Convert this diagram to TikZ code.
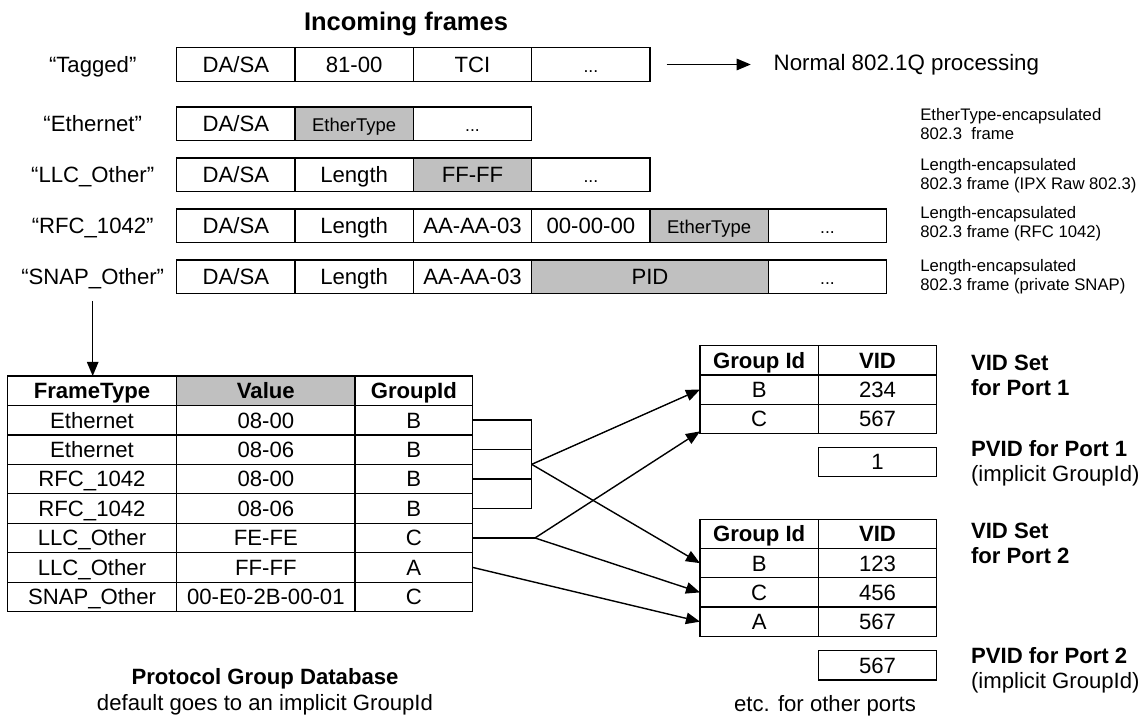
\documentclass[tikz,border=0pt]{standalone}
\usepackage{fontspec}
\setmainfont{Liberation Sans}
\usepackage{xcolor}
\usepackage{tikz}
\usetikzlibrary{arrows.meta, positioning, calc}
\definecolor{cellgray}{RGB}{192, 192, 192}
\newcommand{\bodyfont}{\fontsize{12.6}{14.3}\selectfont}
\newcommand{\notefont}{\fontsize{9.5}{10.8}\selectfont}
\tikzstyle{cell} = [rectangle, draw, line width=0.8pt, minimum width=2.366cm, minimum height=0.67cm, inner sep=0pt, outer sep=0pt, text height=9pt, text depth=0pt, font=\bodyfont]
\tikzstyle{shaded} = [cell, fill=cellgray]
\tikzstyle{restcell} = [cell, font=\fontsize{10}{12}\selectfont]
\tikzstyle{rowlabel} = [text height=9pt, text depth=0pt, font=\bodyfont]
\tikzstyle{tcell} = [rectangle, draw, line width=0.7pt, minimum height=0.589cm, inner sep=0pt, outer sep=0pt, text height=9pt, text depth=0pt, font=\bodyfont]
\tikzstyle{ftcell} = [tcell, minimum width=3.388cm]
\tikzstyle{valcell} = [tcell, minimum width=3.566cm]
\tikzstyle{gidcell} = [tcell, minimum width=2.354cm]
\tikzstyle{pcell} = [tcell, minimum width=2.366cm, minimum height=0.585cm]
\tikzstyle{arrow} = [line width=0.8pt, -{Triangle[length=8pt, width=6.5pt]}]
\tikzstyle{conn} = [line width=0.8pt]
\tikzstyle{note} = [anchor=west, align=left, inner sep=0pt, font=\notefont]
\tikzstyle{sidelabel} = [anchor=west, align=left, inner sep=0pt, font=\bodyfont]

\begin{document}
\begin{tikzpicture}
    \useasboundingbox (0,0) rectangle (22.88,14.38);

    % Incoming frames
    \node[font=\fontsize{14.5}{17}\selectfont\bfseries] (title) at (8.12,13.9) {Incoming frames};

    % Tagged
    \node[rowlabel] (lTag) at (1.854,13.09) {“Tagged”};
    \node[cell] (tag1) at (4.717,13.09) {DA/SA};
    \node[cell] (tag2) at (7.083,13.09) {81-00};
    \node[cell] (tag3) at (9.45,13.09) {TCI};
    \node[restcell] (tag4) at (11.817,13.09) {...};
    \node[anchor=west, inner sep=0pt, font=\fontsize{12.7}{15}\selectfont] (normal) at (15.466,13.09) {Normal 802.1Q processing};
    \draw[arrow, shorten <=0.334cm, shorten >=0.45cm] (tag4) -- (normal);

    % Ethernet
    \node[rowlabel] (lEth) at (1.854,11.906) {“Ethernet”};
    \node[cell] (eth1) at (4.717,11.906) {DA/SA};
    \node[shaded, font=\fontsize{10.5}{12}\selectfont] (eth2) at (7.083,11.906) {EtherType};
    \node[restcell] (eth3) at (9.45,11.906) {...};
    \node[note] (nEth) at (18.4,11.89) {EtherType-encapsulated\\802.3\ \ frame};

    % LLC_Other
    \node[rowlabel] (lLlc) at (1.854,10.886) {“LLC\_Other”};
    \node[cell] (llc1) at (4.717,10.886) {DA/SA};
    \node[cell] (llc2) at (7.083,10.886) {Length};
    \node[shaded] (llc3) at (9.45,10.886) {FF-FF};
    \node[restcell] (llc4) at (11.817,10.886) {...};
    \node[note] (nLlc) at (18.4,10.874) {Length-encapsulated\\802.3 frame (IPX Raw 802.3)};

    % RFC_1042
    \node[rowlabel] (lRfc) at (1.854,9.866) {“RFC\_1042”};
    \node[cell] (rfc1) at (4.717,9.866) {DA/SA};
    \node[cell] (rfc2) at (7.083,9.866) {Length};
    \node[cell] (rfc3) at (9.45,9.866) {AA-AA-03};
    \node[cell] (rfc4) at (11.817,9.866) {00-00-00};
    \node[shaded, font=\fontsize{10.5}{12}\selectfont] (rfc5) at (14.183,9.866) {EtherType};
    \node[restcell] (rfc6) at (16.55,9.866) {...};
    \node[note] (nRfc) at (18.4,9.9) {Length-encapsulated\\802.3 frame (RFC 1042)};

    % SNAP_Other
    \node[rowlabel] (lSnap) at (1.854,8.846) {“SNAP\_Other”};
    \node[cell] (snap1) at (4.717,8.846) {DA/SA};
    \node[cell] (snap2) at (7.083,8.846) {Length};
    \node[cell] (snap3) at (9.45,8.846) {AA-AA-03};
    \node[shaded, minimum width=4.732cm] (snap4) at (13.0,8.846) {PID};
    \node[restcell] (snap5) at (16.55,8.846) {...};
    \node[note] (nSnap) at (18.4,8.854) {Length-encapsulated\\802.3 frame (private SNAP)};

    % Protocol group database
    \node[ftcell, font=\bodyfont\bfseries] (ft0) at (1.84,6.5655) {FrameType};
    \node[valcell, fill=cellgray, font=\bodyfont\bfseries] (va0) at (5.317,6.5655) {Value};
    \node[gidcell, font=\bodyfont\bfseries] (gi0) at (8.277,6.5655) {GroupId};
    \node[ftcell] (ft1) at (1.84,5.9765) {Ethernet};
    \node[valcell] (va1) at (5.317,5.9765) {08-00};
    \node[gidcell] (gi1) at (8.277,5.9765) {B};
    \node[ftcell] (ft2) at (1.84,5.3875) {Ethernet};
    \node[valcell] (va2) at (5.317,5.3875) {08-06};
    \node[gidcell] (gi2) at (8.277,5.3875) {B};
    \node[ftcell] (ft3) at (1.84,4.7985) {RFC\_1042};
    \node[valcell] (va3) at (5.317,4.7985) {08-00};
    \node[gidcell] (gi3) at (8.277,4.7985) {B};
    \node[ftcell] (ft4) at (1.84,4.2095) {RFC\_1042};
    \node[valcell] (va4) at (5.317,4.2095) {08-06};
    \node[gidcell] (gi4) at (8.277,4.2095) {B};
    \node[ftcell] (ft5) at (1.84,3.6205) {LLC\_Other};
    \node[valcell] (va5) at (5.317,3.6205) {FE-FE};
    \node[gidcell] (gi5) at (8.277,3.6205) {C};
    \node[ftcell] (ft6) at (1.84,3.0315) {LLC\_Other};
    \node[valcell] (va6) at (5.317,3.0315) {FF-FF};
    \node[gidcell] (gi6) at (8.277,3.0315) {A};
    \node[ftcell] (ft7) at (1.84,2.4425) {SNAP\_Other};
    \node[valcell] (va7) at (5.317,2.4425) {00-E0-2B-00-01};
    \node[gidcell] (gi7) at (8.277,2.4425) {C};
    \draw[arrow, shorten <=0.2cm] (lSnap.south) -- (lSnap.south |- ft0.north);

    \node[align=center, font=\fontsize{12.6}{15.1}\selectfont] (dbcap) at (5.3,0.547) {\textbf{Protocol Group Database}\\default goes to an implicit GroupId};

    % VID set for port 1
    \node[pcell, font=\bodyfont\bfseries] (p1h1) at (15.183,7.1735) {Group Id};
    \node[pcell, font=\bodyfont\bfseries] (p1h2) at (17.55,7.1735) {VID};
    \node[pcell] (p1b) at (15.183,6.5885) {B};
    \node[pcell] (p1bv) at (17.55,6.5885) {234};
    \node[pcell] (p1c) at (15.183,6.0035) {C};
    \node[pcell] (p1cv) at (17.55,6.0035) {567};
    \node[pcell, minimum height=0.588cm] (pv1) at (17.55,5.14) {1};
    \node[sidelabel, font=\bodyfont\bfseries] (lvs1) at (19.414,6.864) {VID Set\\for Port 1};
    \node[sidelabel] (lpv1) at (19.414,5.113) {\textbf{PVID for Port 1}\\(implicit GroupId)};

    % VID set for port 2
    \node[pcell, font=\bodyfont\bfseries] (p2h1) at (15.183,3.7015) {Group Id};
    \node[pcell, font=\bodyfont\bfseries] (p2h2) at (17.55,3.7015) {VID};
    \node[pcell] (p2b) at (15.183,3.1165) {B};
    \node[pcell] (p2bv) at (17.55,3.1165) {123};
    \node[pcell] (p2c) at (15.183,2.5315) {C};
    \node[pcell] (p2cv) at (17.55,2.5315) {456};
    \node[pcell] (p2a) at (15.183,1.9465) {A};
    \node[pcell] (p2av) at (17.55,1.9465) {567};
    \node[pcell, minimum height=0.588cm] (pv2) at (17.55,1.073) {567};
    \node[sidelabel, font=\bodyfont\bfseries] (lvs2) at (19.414,3.513) {VID Set\\for Port 2};
    \node[sidelabel] (lpv2) at (19.414,0.98) {\textbf{PVID for Port 2}\\(implicit GroupId)};
    \node[font=\bodyfont] (etc) at (16.5,0.26) {etc. for other ports};

    % Group mapping
    \coordinate (bjoin) at (10.634,5.093);
    \coordinate (cjoin) at (10.7,3.6205);
    \draw[conn] (gi1.east) -- ++(1.18,0) |- (gi4.east);
    \draw[conn] (gi2.east) -- (gi2.east -| bjoin);
    \draw[conn] (gi3.east) -- (gi3.east -| bjoin);
    \draw[conn] (gi5.east) -- (cjoin);
    \draw[arrow] (bjoin) -- (p1b.west);
    \draw[arrow] (bjoin) -- (p2b.west);
    \draw[arrow] (cjoin) -- (p1c.192);
    \draw[arrow] (cjoin) -- (p2c.west);
    \draw[arrow] (gi6.east) -- (p2a.west);
\end{tikzpicture}
\end{document}
